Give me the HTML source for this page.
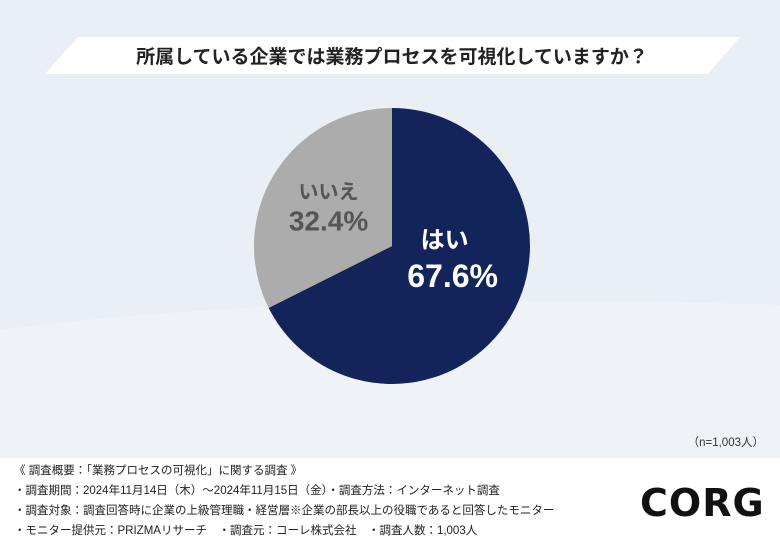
<!DOCTYPE html>
<html><head><meta charset="utf-8"><style>
body{margin:0;width:780px;height:539px;overflow:hidden;background:#eaeff6;font-family:"Liberation Sans","Noto Sans CJK JP",sans-serif;position:relative}
.foot{position:absolute;left:0;top:458px;width:780px;height:81px;background:#fff}
.fl{position:absolute;left:14px;font-size:11.5px;color:#222;white-space:nowrap}
</style></head><body>
<svg width="780" height="539" style="position:absolute;left:0;top:0">
<path d="M0 330 Q300 290 780 305 L780 458 L0 458Z" fill="#eff3f8"/>
<polygon points="78,37 740,37 708,74 45,74" fill="#fff"/>
<text x="392" y="63" text-anchor="middle" font-size="19" font-weight="bold" fill="#222">所属している企業では業務プロセスを可視化していますか？</text>
<g id="pie"></g>
<text x="764" y="446" text-anchor="end" font-size="11.5" fill="#333">（n=1,003人）</text>
</svg>
<div class="foot"></div>
<div class="fl" style="top:462px">《 調査概要：「業務プロセスの可視化」に関する調査 》</div>
<div class="fl" style="top:482px">・調査期間：2024年11月14日（木）～2024年11月15日（金）・調査方法：インターネット調査</div>
<div class="fl" style="top:502px">・調査対象：調査回答時に企業の上級管理職・経営層※企業の部長以上の役職であると回答したモニター</div>
<div class="fl" style="top:522px">・モニター提供元：PRIZMAリサーチ　・調査元：コーレ株式会社　・調査人数：1,003人</div>
<div style="position:absolute;left:640px;top:481px;font-size:38px;font-weight:900;color:#111;letter-spacing:1px;font-family:'DejaVu Sans',sans-serif">CORG</div>
<script>
const labels=["はい","いいえ"];
const values=[67.6,32.4];
const colors=["#13245a","#acacac"];
const cx=392,cy=246,r=138;
const g=document.getElementById('pie');
const total=values.reduce((a,b)=>a+b,0);
let a0=0;
values.forEach((v,i)=>{
  const a1=a0+v/total*2*Math.PI;
  const p=a=>[cx+r*Math.sin(a),cy-r*Math.cos(a)];
  const [x0,y0]=p(a0),[x1,y1]=p(a1);
  const path=document.createElementNS('http://www.w3.org/2000/svg','path');
  path.setAttribute('d',`M${cx} ${cy} L${x0} ${y0} A${r} ${r} 0 ${a1-a0>Math.PI?1:0} 1 ${x1} ${y1}Z`);
  path.setAttribute('fill',colors[i]);
  
  
  g.appendChild(path);
  const am=(a0+a1)/2, lr=i===0?0.55:0.6;
  const lx=cx+r*lr*Math.sin(am)+(i===0?-4:7), ly=cy-r*lr*Math.cos(am);
  const fc=i===0?'#fff':'#555';
  const t1=document.createElementNS('http://www.w3.org/2000/svg','text');
  t1.setAttribute('x',i===0?lx-8:lx);t1.setAttribute('y',ly+(i===0?-38:-4));
  t1.setAttribute('text-anchor','middle');t1.setAttribute('font-size',i===0?24:20);
  t1.setAttribute('font-weight','bold');t1.setAttribute('fill',fc);
  t1.textContent=labels[i];
  
  
  g.appendChild(t1);
  const t2=document.createElementNS('http://www.w3.org/2000/svg','text');
  t2.setAttribute('x',lx);t2.setAttribute('y',ly+(i===0?1:28));
  t2.setAttribute('text-anchor','middle');t2.setAttribute('font-size',i===0?32:28);
  t2.setAttribute('font-weight','bold');t2.setAttribute('fill',fc);
  t2.textContent=v.toFixed(1)+'%';
  
  
  g.appendChild(t2);
  a0=a1;
});
</script>
</body></html>
